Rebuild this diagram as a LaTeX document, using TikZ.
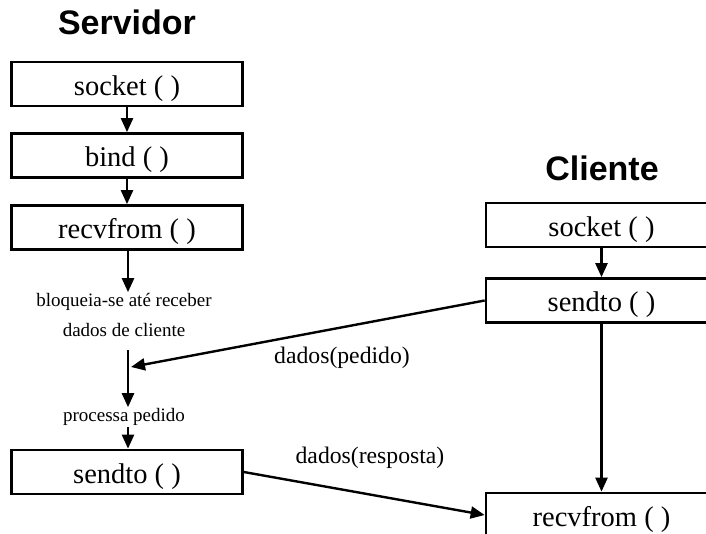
\documentclass[tikz,border=0pt]{standalone}
\usepackage{fontspec}
\setmainfont{Liberation Serif}
\newfontfamily\titlefont{Liberation Sans}
\usetikzlibrary{arrows.meta,positioning}

\begin{document}
\begin{tikzpicture}
	[x=1pt, y=-1pt,
	% STYLES
	% The call style is used to draw the socket calls
	call/.style={rectangle, draw, line width=2.7pt, minimum width=231pt, minimum height=44pt, inner sep=0pt, text height=23pt, text depth=1pt, font=\fontsize{28.5}{30}\selectfont},
	% The side style is used for the names of both ends
	side/.style={font=\titlefont\bfseries\fontsize{34}{38}\selectfont},
	% The note style is used for the small texts on the server line
	note/.style={font=\fontsize{19}{22}\selectfont, inner sep=1pt},
	% The msg style is used for the labels of the data
	msg/.style={font=\fontsize{23.7}{26}\selectfont},
	flow/.style={line width=2.4pt, -{Triangle[length=14pt,width=12pt]}}]
	\clip (0,0) rectangle (706,533);
	% Draw server
	\node [side] (srv) at (127,22) {Servidor};
	\node [call] (s_socket) at (127,84) {socket ( )};
	\node [call] (s_bind) at (127,155.5) {bind ( )};
	\node [call] (s_recv) at (127,227.5) {recvfrom ( )};
	\node [note] (block) at (124,302) {bloqueia-se até receber};
	\node [note] (block2) at (124,330) {dados de cliente};
	\node [note] (proc) at (124,417) {processa pedido};
	\node [call] (s_send) at (127,472) {sendto ( )};
	\coordinate (wait) at (128,350);
	\coordinate (arrive) at (131,367);
	% Draw client
	\node [side] (cli) at (602,168) {Cliente};
	\node [call] (c_socket) at (601.5,225) {socket ( )};
	\node [call] (c_send) at (601.5,300.5) {sendto ( )};
	\node [call] (c_recv) at (601.5,515) {recvfrom ( )};
	%%%%%%%%%%%%%%%
	% Draw the links between calls
	\draw [flow] (s_socket) -- (s_bind);
	\draw [flow] (s_bind) -- (s_recv);
	\draw [flow] (s_recv.south -| wait) -- (block.north -| wait);
	\draw [flow] (wait) -- (proc.north -| wait);
	\draw [flow] (proc.south -| wait) -- (s_send.north -| wait);
	\draw [flow] (c_socket) -- (c_send);
	\draw [flow] (c_send) -- (c_recv);
	% data exchanged
	\draw [flow] (c_send.west) -- (arrive);
	\draw [flow] (s_send.east) -- (c_recv.west);
	\node [msg] (req) at (342,358) {dados(pedido)};
	\node [msg] (resp) at (370,458) {dados(resposta)};
\end{tikzpicture}
\end{document}
